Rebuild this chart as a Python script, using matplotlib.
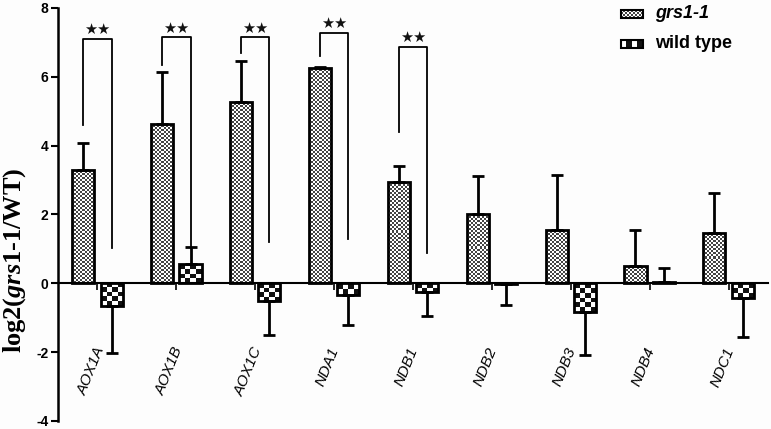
import numpy as np
import matplotlib
matplotlib.use("Agg")
import matplotlib.pyplot as plt
from matplotlib.colors import ListedColormap
from matplotlib.patches import Rectangle

genes = ['AOX1A', 'AOX1B', 'AOX1C', 'NDA1', 'NDB1', 'NDB2', 'NDB3', 'NDB4', 'NDC1']
grs = [3.30, 4.64, 5.28, 6.27, 2.93, 2.00, 1.55, 0.50, 1.47]
grs_err = [0.79, 1.50, 1.18, 0.03, 0.49, 1.13, 1.60, 1.04, 1.16]
wt = [-0.67, 0.55, -0.52, -0.35, -0.26, -0.02, -0.82, 0.03, -0.43]
wt_err = [1.36, 0.52, 0.98, 0.85, 0.69, 0.62, 1.27, 0.43, 1.14]

# significance brackets: gene index, bracket top, left leg end, right leg end
sig_idx = [0, 1, 2, 3, 4]
sig_top = [7.10, 7.15, 7.15, 7.28, 6.88]
sig_left = [4.60, 6.35, 6.70, 6.60, 4.40]
sig_right = [1.04, 1.07, 1.19, 1.30, 0.87]

yticks = [-4, -2, 0, 2, 4, 6, 8]

plt.rcParams['font.family'] = ['Liberation Sans', 'DejaVu Sans']
plt.rcParams['mathtext.fontset'] = 'custom'
plt.rcParams['mathtext.rm'] = 'Liberation Serif:bold'
plt.rcParams['mathtext.it'] = 'Liberation Serif:bold:italic'

W, H = 771, 429
fig = plt.figure(figsize=(W / 100, H / 100), dpi=100)
fig.patch.set_facecolor('#fdfdfd')
ax = fig.add_axes([58 / W, 8 / H, 710 / W, 413 / H])
ax.set_facecolor('none')

xlim = (-0.5, len(genes) - 0.5)
ylim = (-4, 8)
px_x = 710 / (xlim[1] - xlim[0])
px_y = 413 / (ylim[1] - ylim[0])

x = np.arange(len(genes))
off, bw = 0.18, 0.28


def checker(patch, cell, dark):
    x0, y0 = patch.get_x(), patch.get_y()
    w, h = patch.get_width(), patch.get_height()
    ya, yb = min(y0, y0 + h), max(y0, y0 + h)
    nx = max(1, int(round(w * px_x / cell)))
    ny = max(1, int(round((yb - ya) * px_y / cell)))
    arr = np.add.outer(np.arange(ny), np.arange(nx)) % 2
    im = ax.imshow(arr, extent=(x0, x0 + w, ya, yb), cmap=ListedColormap(['white', dark]),
                   interpolation='nearest', aspect='auto', zorder=2, origin='lower')
    im.set_clip_path(patch)


ekw = dict(ecolor='black', elinewidth=2.0, capsize=4, capthick=2.0)
b1 = ax.bar(x - off, grs, bw, facecolor='none', edgecolor='black', linewidth=2.0, zorder=3)
b2 = ax.bar(x + off, wt, bw, facecolor='none', edgecolor='black', linewidth=2.0, zorder=3)
for p in b1:
    checker(p, 2, '#444444')
for p in b2:
    checker(p, 5, '#111111')

# one-sided error bars away from zero
for xs, vals, errs in [(x - off, grs, grs_err), (x + off, wt, wt_err)]:
    for xi, v, e in zip(xs, vals, errs):
        lo, hi = (0, e) if v >= 0 else (e, 0)
        ax.errorbar(xi, v, yerr=[[lo], [hi]], fmt='none', zorder=2.5, **ekw)

# brackets with stars
for i, top, l, r in zip(sig_idx, sig_top, sig_left, sig_right):
    xl, xr = x[i] - off, x[i] + off
    ax.plot([xl, xl, xr, xr], [l, top, top, r], color='black', lw=1.3, zorder=4)
    ax.text((xl + xr) / 2, top + 0.05, '\u2605\u2605', ha='center', va='bottom',
            fontsize=10.5, family='DejaVu Sans', color='#111111')

ax.set_xlim(*xlim)
ax.set_ylim(*ylim)
ax.set_yticks(yticks)
ax.set_yticklabels([str(t) for t in yticks], fontsize=10, fontweight='bold')
ax.set_xticks(x)
ax.set_xticklabels([])
ax.tick_params(axis='x', direction='out', length=5, width=1.2)
ax.tick_params(axis='y', direction='out', length=5, width=1.5, pad=2)
for s in ['top', 'right']:
    ax.spines[s].set_visible(False)
ax.spines['bottom'].set_position(('data', 0))
ax.spines['bottom'].set_linewidth(1.5)
ax.spines['left'].set_linewidth(1.8)

for xi, g in zip(x, genes):
    ax.text(xi - 0.08, -1.8, g, rotation=68, ha='center', va='top', fontsize=11, style='italic')

# legend swatches
ax_tr = ax.transAxes
for k, (cell, dark, label, st) in enumerate([(2, '#444444', 'grs1-1', 'italic'),
                                             (5, '#111111', 'wild type', 'normal')]):
    yc = 1 - (6 + 30 * k) / 413
    sw = Rectangle((563 / 710, yc - 4 / 413), 22 / 710, 8 / 413, transform=ax_tr,
                   facecolor='none', edgecolor='black', lw=1.5, zorder=3)
    ax.add_patch(sw)
    nx, ny = max(1, int(22 / cell)), max(1, int(8 / cell))
    arr = np.add.outer(np.arange(ny), np.arange(nx)) % 2
    ax.imshow(arr, extent=(563 / 710, 585 / 710, yc - 4 / 413, yc + 4 / 413),
              transform=ax_tr, cmap=ListedColormap(['white', dark]),
              interpolation='nearest', aspect='auto', zorder=2)
    ax.text(597 / 710, yc, label, transform=ax_tr, ha='left', va='center',
            fontsize=13, fontweight='bold', style=st)

ax.set_xlim(*xlim)
ax.set_ylim(*ylim)

fig.text(15 / W, 1 - 260 / H, r'$\mathrm{log2(}\mathit{grs1}\text{-}\mathit{1}\mathrm{/WT)}$',
         rotation=90, ha='center', va='center', fontsize=19)

fig.savefig('out.png', dpi=100, facecolor=fig.get_facecolor())
